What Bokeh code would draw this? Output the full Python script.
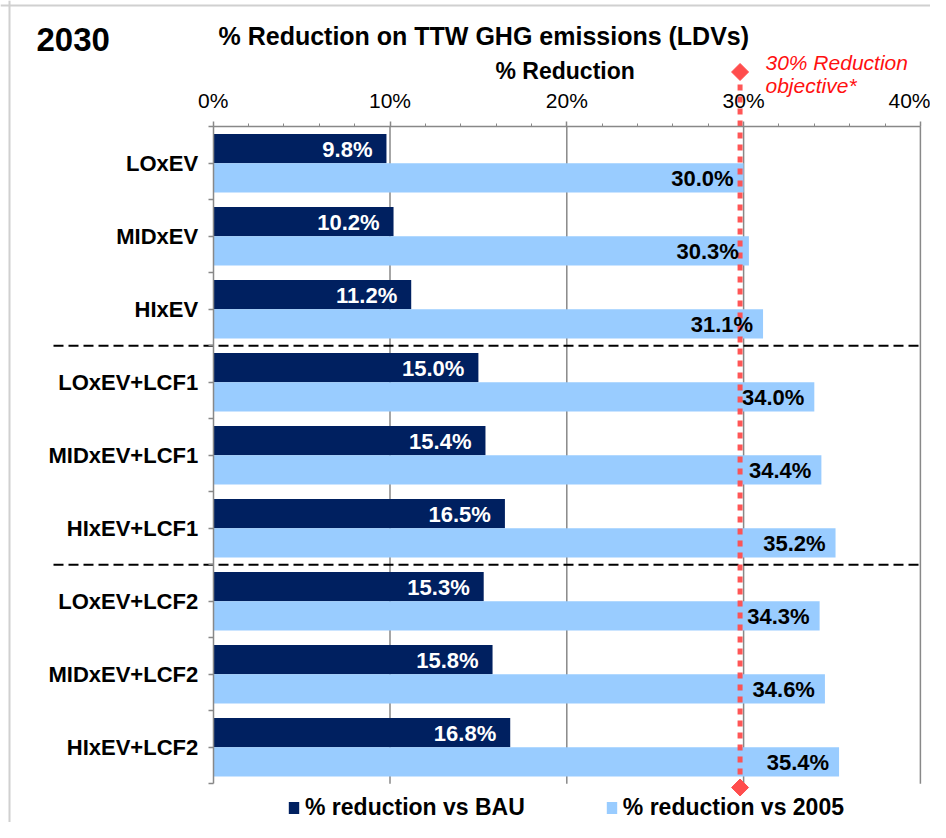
import math
from bokeh.plotting import figure
from bokeh.models import (Range1d, LinearAxis, FixedTicker, SingleIntervalTicker,
                          PrintfTickFormatter, Legend, LegendItem, Span, ColumnDataSource)
from bokeh.core.properties import value
from bokeh.embed import file_html
from bokeh.resources import INLINE

# ---------------- data ----------------
categories = ["LOxEV", "MIDxEV", "HIxEV",
              "LOxEV+LCF1", "MIDxEV+LCF1", "HIxEV+LCF1",
              "LOxEV+LCF2", "MIDxEV+LCF2", "HIxEV+LCF2"]
vs_bau = [9.8, 10.2, 11.2, 15.0, 15.4, 16.5, 15.3, 15.8, 16.8]
vs_2005 = [30.0, 30.3, 31.1, 34.0, 34.4, 35.2, 34.3, 34.6, 35.4]
series_names = ["% reduction vs BAU", "% reduction vs 2005"]
x_ticks = [0, 10, 20, 30, 40]
objective = 29.8
objective_text = ["30% Reduction", "objective*"]
group_size = 3
year_label = "2030"
title_text = "% Reduction on TTW GHG emissions (LDVs)"
axis_title = "% Reduction"

# ---------------- layout ----------------
W, H = 930, 822
PX_PER_PCT = 17.68          # px per 1 %
X0_PX = 212.7               # canvas x of 0 %
CAT_PX = 73.0               # px per category
Y0_PX = 783.3               # canvas y of bottom of category area
FONT = value("Liberation Sans")
DARK = "#002060"
LIGHT = "#99CCFF"
RED = "#ff4d4d"
GRAY = "#888888"


def px_x(px):
    return (px - X0_PX) / PX_PER_PCT


def px_y(py):
    return (Y0_PX - py) / CAT_PX


n = len(categories)
centers = [n - i - 0.5 for i in range(n)]

p = figure(width=W, height=H, output_backend="svg", toolbar_location=None,
           x_range=Range1d(-X0_PX / PX_PER_PCT, (W - X0_PX) / PX_PER_PCT),
           y_range=Range1d(-(H - Y0_PX) / CAT_PX, Y0_PX / CAT_PX),
           x_axis_location=None, y_axis_location=None,
           min_border=0, min_border_left=0, min_border_right=0,
           min_border_top=0, min_border_bottom=0)
p.title.visible = False
p.outline_line_color = None
p.xgrid.visible = False
p.ygrid.visible = False
p.background_fill_color = "white"
p.border_fill_color = "white"

# outer border (left & top)
p.add_layout(Span(location=px_x(9), dimension="height", line_color="#d0d0d0", line_width=2))
p.add_layout(Span(location=px_y(5), dimension="width", line_color="#d0d0d0", line_width=2))

# vertical gridlines
grid_x = [t for t in x_ticks if t > 0]
p.segment(x0=grid_x, x1=grid_x, y0=[0] * len(grid_x), y1=[n] * len(grid_x),
          line_color=GRAY, line_width=1.5)

# bars
src = ColumnDataSource(dict(
    y_bau=[c + 0.2 for c in centers],
    y_05=[c - 0.2 for c in centers],
    bau=vs_bau, v05=vs_2005,
    bau_lbl=[f"{v:.1f}%" for v in vs_bau],
    v05_lbl=[f"{v:.1f}%" for v in vs_2005],
))
r_dark = p.hbar(y="y_bau", right="bau", left=0, height=0.4, source=src,
                fill_color=DARK, line_color=None)
r_light = p.hbar(y="y_05", right="v05", left=0, height=0.4, source=src,
                 fill_color=LIGHT, line_color=None)

# group separators
sep_y = [n - k * group_size for k in range(1, n // group_size)]
p.segment(x0=[px_x(53)] * len(sep_y), x1=[px_x(918)] * len(sep_y), y0=sep_y, y1=sep_y,
          line_color="black", line_width=2, line_dash="10 5")

# objective line
p.segment(x0=[objective], x1=[objective], y0=[px_y(774)], y1=[px_y(83)],
          line_color=RED, line_width=5, line_dash="6 6", line_alpha=0.95)
p.scatter(x=[objective, objective], y=[px_y(71.5), px_y(787)], marker="square",
          angle=math.pi / 4, size=12, fill_color=RED, line_color=RED)

# data labels
p.text(x="bau", y="y_bau", text="bau_lbl", source=src, x_offset=-14, y_offset=1,
       text_align="right", text_baseline="middle", text_color="white",
       text_font=FONT, text_font_style="bold", text_font_size="22px")
p.text(x="v05", y="y_05", text="v05_lbl", source=src, x_offset=-10, y_offset=1,
       text_align="right", text_baseline="middle", text_color="black",
       text_font=FONT, text_font_style="bold", text_font_size="22px")

# top axis
top = LinearAxis(fixed_location=n, bounds=(x_ticks[0], x_ticks[-1]),
                 ticker=SingleIntervalTicker(interval=10, num_minor_ticks=5),
                 formatter=PrintfTickFormatter(format="%d%%"))
top.axis_line_color = GRAY
top.axis_line_width = 1.5
top.major_tick_line_color = GRAY
top.major_tick_line_width = 1.5
top.minor_tick_line_color = GRAY
top.major_tick_out = 5
top.major_tick_in = 0
top.minor_tick_out = 3
top.minor_tick_in = 0
top.major_label_standoff = 10
top.major_label_text_font = "Liberation Sans"
top.major_label_text_font_size = "21px"
top.major_label_text_color = "black"
p.add_layout(top, "above")

# left axis with category labels
ticks = [k * 0.5 for k in range(2 * n + 1)]
overrides = {t: "" for t in ticks}
for c, name in zip(centers, categories):
    overrides[c] = name
left = LinearAxis(fixed_location=0, bounds=(0, n), ticker=FixedTicker(ticks=ticks),
                  major_label_overrides=overrides)
left.axis_line_color = GRAY
left.axis_line_width = 1.5
left.major_tick_line_color = GRAY
left.major_tick_line_width = 1.5
left.major_tick_out = 5
left.major_tick_in = 0
left.minor_tick_line_color = None
left.major_label_standoff = 10
left.major_label_text_font = "Liberation Sans"
left.major_label_text_font_style = "bold"
left.major_label_text_font_size = "22px"
left.major_label_text_color = "black"
p.add_layout(left, "left")

# titles (y = vertical centre of capitals)
p.text(x=[px_x(36)], y=[px_y(38.5)], text=[year_label], text_font=FONT, text_font_style="bold",
       text_font_size="33px", text_align="left", text_baseline="middle", text_color="black")
p.text(x=[px_x(218)], y=[px_y(35.5)], text=[title_text], text_font=FONT, text_font_style="bold",
       text_font_size="25px", text_align="left", text_baseline="middle", text_color="black")
p.text(x=[px_x(495)], y=[px_y(70.5)], text=[axis_title], text_font=FONT, text_font_style="bold",
       text_font_size="23px", text_align="left", text_baseline="middle", text_color="black")
p.text(x=[px_x(765)] * 2, y=[px_y(61.5), px_y(85)], text=objective_text, text_font=FONT,
       text_font_style="italic", text_font_size="21px", text_align="left",
       text_baseline="middle", text_color="#ff1010")

# legend
legend = Legend(items=[LegendItem(label=series_names[0], renderers=[r_dark]),
                       LegendItem(label=series_names[1], renderers=[r_light])],
                orientation="horizontal", location=(287, 1), padding=0, spacing=80,
                glyph_width=13, glyph_height=15, label_standoff=5,
                border_line_color=None, background_fill_alpha=0,
                label_text_font="Liberation Sans", label_text_font_style="bold",
                label_text_font_size="23px", label_text_color="black")
p.add_layout(legend)

open("out.html", "w").write(file_html(p, INLINE))
